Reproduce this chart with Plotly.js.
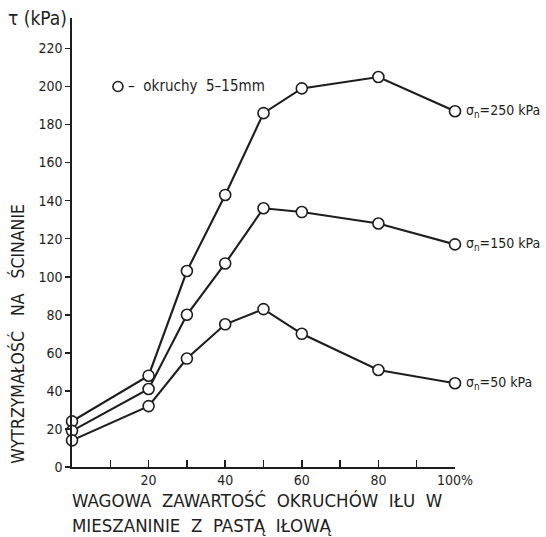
<!DOCTYPE html>
<html>
<head>
<meta charset="utf-8">
<script src="https://cdn.plot.ly/plotly-3.0.1.min.js"></script>
<style>html,body{margin:0;padding:0;background:#fff;}#chart{width:546px;height:537px;}</style>
</head>
<body>
<div id="chart"></div>
<script>
// Data
const contentPct = [0, 20, 30, 40, 50, 60, 80, 100];
const tau250 = [24, 48, 103, 143, 186, 199, 205, 187];
const tau150 = [19, 41, 80, 107, 136, 134, 128, 117];
const tau50  = [14, 32, 57, 75, 83, 70, 51, 44];
const seriesLabels = ["σ<sub>n</sub>=250 kPa", "σ<sub>n</sub>=150 kPa", "σ<sub>n</sub>=50 kPa"];
const xTickVals = [20, 40, 60, 80, 100];
const xTickText = ["20", "40", "60", "80", "100%"];
const xMinorVals = [10, 30, 50, 70, 90];
const yTickVals = [0, 20, 40, 60, 80, 100, 120, 140, 160, 180, 200, 220];
const legendText = "–  okruchy  5–15mm";
const yTitle = "WYTRZYMAŁOŚĆ   NA   ŚCINANIE";
const xTitle1 = "WAGOWA  ZAWARTOŚĆ  OKRUCHÓW  IŁU  W";
const xTitle2 = "MIESZANINIE  Z  PASTĄ  IŁOWĄ";
const unitTitle = "τ (kPa)";

const FONT = "'DejaVu Sans Condensed', 'Liberation Sans Narrow', 'Liberation Sans', Arial, sans-serif";
const INK = "#1e1e1e";

function series(y) {
  return {
    x: contentPct, y: y, type: "scatter", mode: "lines+markers",
    cliponaxis: false, showlegend: false, hoverinfo: "skip",
    line: {color: INK, width: 2.1},
    marker: {symbol: "circle", size: 11, color: "#ffffff", line: {color: INK, width: 1.6}}
  };
}
const allSeries = [tau250, tau150, tau50];
const traces = allSeries.map(series);

const annotations = [];
allSeries.forEach((s, i) => {
  annotations.push({
    x: contentPct[contentPct.length - 1], y: s[s.length - 1], xref: "x", yref: "y",
    text: seriesLabels[i], showarrow: false, xanchor: "left", yanchor: "middle", xshift: 9,
    font: {family: FONT, size: 14, color: INK}
  });
});
annotations.push({
  x: 0, y: 1, xref: "paper", yref: "paper", text: unitTitle, showarrow: false,
  xanchor: "right", yanchor: "middle", xshift: -3, yshift: 0,
  font: {family: FONT, size: 19, color: INK}
});
annotations.push({
  x: 0, y: 70, xref: "paper", yref: "y", text: yTitle, showarrow: false, textangle: -90,
  xanchor: "center", yanchor: "middle", xshift: -54,
  font: {family: FONT, size: 17.5, color: INK}
});
annotations.push({
  x: 0, y: 0, xref: "paper", yref: "paper", text: xTitle1, showarrow: false,
  xanchor: "left", yanchor: "middle", yshift: -33, xshift: -2,
  font: {family: FONT, size: 18.5, color: INK}
});
annotations.push({
  x: 0, y: 0, xref: "paper", yref: "paper", text: xTitle2, showarrow: false,
  xanchor: "left", yanchor: "middle", yshift: -58, xshift: -2,
  font: {family: FONT, size: 18.5, color: INK}
});
// legend sample marker
traces.push({
  x: [12], y: [200], type: "scatter", mode: "markers", showlegend: false, hoverinfo: "skip",
  marker: {symbol: "circle", size: 10, color: "#ffffff", line: {color: INK, width: 1.6}}
});
annotations.push({
  x: 14, y: 200, xref: "x", yref: "y", text: legendText, showarrow: false,
  xanchor: "left", yanchor: "middle",
  font: {family: FONT, size: 15, color: INK}
});

const layout = {
  width: 546, height: 537,
  margin: {l: 72, r: 91, t: 18, b: 70},
  paper_bgcolor: "#ffffff", plot_bgcolor: "#ffffff",
  font: {family: FONT, size: 14, color: INK},
  showlegend: false,
  xaxis: {
    range: [0, 100], showgrid: false, zeroline: false, showline: true,
    linecolor: INK, linewidth: 1.6, ticks: "inside", ticklen: 7, tickwidth: 1.5, tickcolor: INK,
    tickmode: "array", tickvals: xTickVals, ticktext: xTickText,
    tickfont: {family: FONT, size: 14, color: INK},
    minor: {tickmode: "array", tickvals: xMinorVals, ticks: "inside", ticklen: 7, tickwidth: 1.5, tickcolor: INK, showgrid: false}
  },
  yaxis: {
    range: [0, 236], showgrid: false, zeroline: false, showline: true,
    linecolor: INK, linewidth: 1.6, ticks: "outside", ticklen: 5, tickwidth: 1.5, tickcolor: INK,
    tickmode: "array", tickvals: yTickVals,
    tickfont: {family: FONT, size: 14, color: INK}
  },
  annotations: annotations
};

Plotly.newPlot("chart", traces, layout, {staticPlot: true, displayModeBar: false});
</script>
</body>
</html>
